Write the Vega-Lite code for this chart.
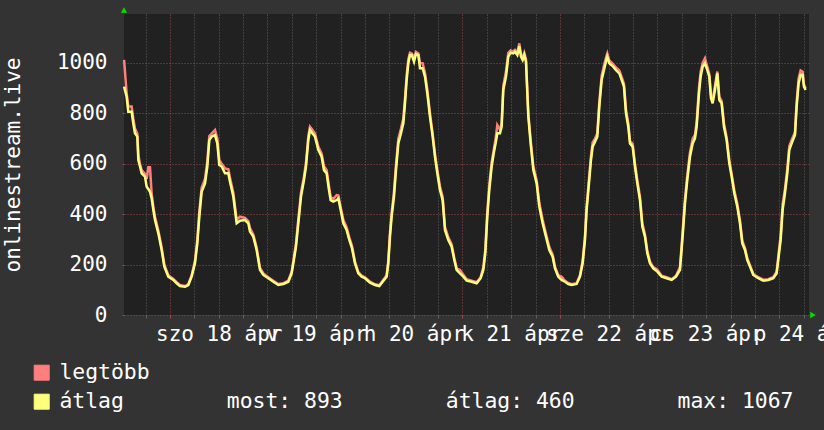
{
  "$schema": "https://vega.github.io/schema/vega-lite/v6.json",
  "autosize": {"type": "none"},
  "padding": {"left": 124, "top": 14, "right": 15, "bottom": 115},
  "width": 685,
  "height": 301,
  "background": "#333333",
  "config": {
    "view": {"fill": "#212121", "stroke": null},
    "font": "DejaVu Sans Mono",
    "axisY": {
      "values": [0, 100, 200, 300, 400, 500, 600, 700, 800, 900, 1000, 1100],
      "grid": true,
      "gridColor": {"condition": {"test": "datum.value % 200 === 0", "value": "#a04848"}, "value": "#606060"},
      "gridDash": [1, 2],
      "domain": false,
      "tickSize": 2,
      "tickColor": {"condition": {"test": "datum.value % 200 === 0", "value": "#a04848"}, "value": "#606060"},
      "labelExpr": "datum.value % 200 === 0 ? format(datum.value, 'd') : ''",
      "labelFont": "DejaVu Sans Mono",
      "labelFontSize": 21,
      "labelColor": "#ffffff",
      "labelPadding": 15,
      "titleFont": "DejaVu Sans Mono",
      "titleFontSize": 21,
      "titleFontWeight": "normal",
      "titleColor": "#ffffff",
      "titlePadding": 33
    }
  },
  "datasets": {
    "serie": [
      {"h": -11.3, "max": 1012, "avg": 906},
      {"h": -10.67, "max": 880, "avg": 866},
      {"h": -10.26, "max": 827, "avg": 807},
      {"h": -9.44, "max": 827, "avg": 807},
      {"h": -9.03, "max": 780, "avg": 760},
      {"h": -8.62, "max": 740, "avg": 721},
      {"h": -8.04, "max": 720, "avg": 708},
      {"h": -7.79, "max": 635, "avg": 615},
      {"h": -7.38, "max": 600, "avg": 589},
      {"h": -6.97, "max": 575, "avg": 562},
      {"h": -6.15, "max": 560, "avg": 549},
      {"h": -5.74, "max": 540, "avg": 509},
      {"h": -5.33, "max": 586, "avg": 500},
      {"h": -4.92, "max": 586, "avg": 489},
      {"h": -4.51, "max": 480, "avg": 463},
      {"h": -4.10, "max": 430, "avg": 417},
      {"h": -3.69, "max": 390, "avg": 377},
      {"h": -2.87, "max": 335, "avg": 324},
      {"h": -2.05, "max": 268, "avg": 258},
      {"h": -1.39, "max": 200, "avg": 192},
      {"h": -0.41, "max": 158, "avg": 152},
      {"h": 0.82, "max": 143, "avg": 139},
      {"h": 1.64, "max": 130, "avg": 126},
      {"h": 2.46, "max": 119, "avg": 115},
      {"h": 3.69, "max": 115, "avg": 112},
      {"h": 4.51, "max": 122, "avg": 119},
      {"h": 5.33, "max": 158, "avg": 152},
      {"h": 6.15, "max": 215, "avg": 205},
      {"h": 6.73, "max": 300, "avg": 284},
      {"h": 7.22, "max": 410, "avg": 390},
      {"h": 7.79, "max": 505, "avg": 489},
      {"h": 8.62, "max": 540, "avg": 522},
      {"h": 9.19, "max": 610, "avg": 589},
      {"h": 9.68, "max": 710, "avg": 694},
      {"h": 10.26, "max": 720, "avg": 708},
      {"h": 11.08, "max": 734, "avg": 714},
      {"h": 11.65, "max": 700, "avg": 681},
      {"h": 12.14, "max": 615, "avg": 595},
      {"h": 12.72, "max": 600, "avg": 589},
      {"h": 13.54, "max": 582, "avg": 562},
      {"h": 14.36, "max": 578, "avg": 562},
      {"h": 14.77, "max": 545, "avg": 529},
      {"h": 15.59, "max": 485, "avg": 470},
      {"h": 16.41, "max": 378, "avg": 364},
      {"h": 17.23, "max": 390, "avg": 374},
      {"h": 18.46, "max": 385, "avg": 377},
      {"h": 19.28, "max": 372, "avg": 364},
      {"h": 19.69, "max": 345, "avg": 331},
      {"h": 20.51, "max": 320, "avg": 311},
      {"h": 21.33, "max": 268, "avg": 258},
      {"h": 22.15, "max": 188, "avg": 179},
      {"h": 22.97, "max": 165, "avg": 159},
      {"h": 24.21, "max": 150, "avg": 146},
      {"h": 25.44, "max": 136, "avg": 132},
      {"h": 26.67, "max": 123, "avg": 119},
      {"h": 27.90, "max": 126, "avg": 123},
      {"h": 29.13, "max": 137, "avg": 132},
      {"h": 29.95, "max": 172, "avg": 165},
      {"h": 30.36, "max": 215, "avg": 205},
      {"h": 31.02, "max": 285, "avg": 271},
      {"h": 31.59, "max": 380, "avg": 364},
      {"h": 32.25, "max": 485, "avg": 470},
      {"h": 32.98, "max": 550, "avg": 536},
      {"h": 33.48, "max": 605, "avg": 589},
      {"h": 34.05, "max": 710, "avg": 694},
      {"h": 34.46, "max": 747, "avg": 734},
      {"h": 35.04, "max": 735, "avg": 721},
      {"h": 35.69, "max": 720, "avg": 708},
      {"h": 36.51, "max": 668, "avg": 655},
      {"h": 37.33, "max": 640, "avg": 628},
      {"h": 37.91, "max": 590, "avg": 575},
      {"h": 38.56, "max": 575, "avg": 562},
      {"h": 39.14, "max": 510, "avg": 496},
      {"h": 39.55, "max": 468, "avg": 456},
      {"h": 40.21, "max": 460, "avg": 450},
      {"h": 41.03, "max": 476, "avg": 456},
      {"h": 41.44, "max": 475, "avg": 463},
      {"h": 42.01, "max": 430, "avg": 417},
      {"h": 42.67, "max": 378, "avg": 364},
      {"h": 43.49, "max": 348, "avg": 337},
      {"h": 44.14, "max": 308, "avg": 298},
      {"h": 44.80, "max": 275, "avg": 265},
      {"h": 45.54, "max": 212, "avg": 205},
      {"h": 46.36, "max": 170, "avg": 165},
      {"h": 47.18, "max": 156, "avg": 152},
      {"h": 48.00, "max": 150, "avg": 146},
      {"h": 49.23, "max": 132, "avg": 128},
      {"h": 50.46, "max": 122, "avg": 119},
      {"h": 51.53, "max": 118, "avg": 115},
      {"h": 52.35, "max": 136, "avg": 132},
      {"h": 53.33, "max": 158, "avg": 152},
      {"h": 53.74, "max": 215, "avg": 205},
      {"h": 54.15, "max": 325, "avg": 311},
      {"h": 54.56, "max": 405, "avg": 390},
      {"h": 55.14, "max": 490, "avg": 470},
      {"h": 55.63, "max": 595, "avg": 575},
      {"h": 56.21, "max": 700, "avg": 681},
      {"h": 56.86, "max": 740, "avg": 721},
      {"h": 57.44, "max": 780, "avg": 761},
      {"h": 57.85, "max": 860, "avg": 840},
      {"h": 58.26, "max": 950, "avg": 933},
      {"h": 58.67, "max": 1015, "avg": 999},
      {"h": 59.08, "max": 1041, "avg": 1032},
      {"h": 59.49, "max": 1038, "avg": 1032},
      {"h": 60.07, "max": 1020, "avg": 1005},
      {"h": 60.55, "max": 1044, "avg": 1036},
      {"h": 61.13, "max": 1038, "avg": 1032},
      {"h": 61.54, "max": 1000, "avg": 979},
      {"h": 62.19, "max": 999, "avg": 979},
      {"h": 62.77, "max": 960, "avg": 946},
      {"h": 63.34, "max": 895, "avg": 880},
      {"h": 64.00, "max": 800, "avg": 787},
      {"h": 64.66, "max": 720, "avg": 708},
      {"h": 65.23, "max": 640, "avg": 628},
      {"h": 65.81, "max": 575, "avg": 562},
      {"h": 66.46, "max": 510, "avg": 496},
      {"h": 67.12, "max": 468, "avg": 456},
      {"h": 67.69, "max": 350, "avg": 337},
      {"h": 68.51, "max": 308, "avg": 298},
      {"h": 69.33, "max": 280, "avg": 271},
      {"h": 69.99, "max": 226, "avg": 218},
      {"h": 70.56, "max": 185, "avg": 179},
      {"h": 71.38, "max": 179, "avg": 165},
      {"h": 72.21, "max": 160, "avg": 152},
      {"h": 73.03, "max": 142, "avg": 136},
      {"h": 74.26, "max": 136, "avg": 132},
      {"h": 75.49, "max": 130, "avg": 126},
      {"h": 76.47, "max": 150, "avg": 146},
      {"h": 77.13, "max": 190, "avg": 179},
      {"h": 77.62, "max": 260, "avg": 245},
      {"h": 78.11, "max": 410, "avg": 390},
      {"h": 78.60, "max": 515, "avg": 496},
      {"h": 79.18, "max": 605, "avg": 589},
      {"h": 79.69, "max": 655, "avg": 642},
      {"h": 80.16, "max": 700, "avg": 681},
      {"h": 80.57, "max": 754, "avg": 721},
      {"h": 81.23, "max": 735, "avg": 721},
      {"h": 81.64, "max": 760, "avg": 747},
      {"h": 82.05, "max": 910, "avg": 893},
      {"h": 82.71, "max": 965, "avg": 946},
      {"h": 83.28, "max": 1040, "avg": 1025},
      {"h": 83.86, "max": 1050, "avg": 1041},
      {"h": 84.51, "max": 1045, "avg": 1038},
      {"h": 84.92, "max": 1052, "avg": 1045},
      {"h": 85.50, "max": 1040, "avg": 1032},
      {"h": 85.99, "max": 1078, "avg": 1067},
      {"h": 86.40, "max": 1035, "avg": 1025},
      {"h": 86.81, "max": 1020, "avg": 1012},
      {"h": 87.22, "max": 1040, "avg": 1032},
      {"h": 87.63, "max": 1015, "avg": 1005},
      {"h": 88.21, "max": 800, "avg": 787},
      {"h": 88.78, "max": 695, "avg": 681},
      {"h": 89.44, "max": 590, "avg": 575},
      {"h": 90.26, "max": 535, "avg": 522},
      {"h": 90.91, "max": 445, "avg": 430},
      {"h": 91.73, "max": 378, "avg": 364},
      {"h": 92.55, "max": 322, "avg": 311},
      {"h": 93.37, "max": 270, "avg": 258},
      {"h": 94.20, "max": 240, "avg": 231},
      {"h": 94.77, "max": 192, "avg": 185},
      {"h": 95.59, "max": 158, "avg": 152},
      {"h": 96.41, "max": 152, "avg": 139},
      {"h": 97.23, "max": 136, "avg": 132},
      {"h": 98.05, "max": 127, "avg": 123},
      {"h": 98.87, "max": 122, "avg": 119},
      {"h": 100.10, "max": 126, "avg": 123},
      {"h": 100.92, "max": 158, "avg": 152},
      {"h": 101.58, "max": 215, "avg": 205},
      {"h": 102.15, "max": 312, "avg": 298},
      {"h": 102.56, "max": 430, "avg": 417},
      {"h": 103.14, "max": 540, "avg": 522},
      {"h": 103.63, "max": 630, "avg": 615},
      {"h": 104.04, "max": 685, "avg": 668},
      {"h": 104.62, "max": 700, "avg": 688},
      {"h": 105.19, "max": 720, "avg": 708},
      {"h": 105.68, "max": 845, "avg": 827},
      {"h": 106.26, "max": 950, "avg": 933},
      {"h": 106.83, "max": 990, "avg": 972},
      {"h": 107.32, "max": 1020, "avg": 1005},
      {"h": 107.65, "max": 1038, "avg": 1025},
      {"h": 108.14, "max": 1010, "avg": 999},
      {"h": 108.96, "max": 998, "avg": 988},
      {"h": 109.79, "max": 982, "avg": 972},
      {"h": 110.61, "max": 970, "avg": 959},
      {"h": 111.18, "max": 945, "avg": 933},
      {"h": 111.75, "max": 918, "avg": 906},
      {"h": 112.25, "max": 815, "avg": 800},
      {"h": 112.82, "max": 760, "avg": 747},
      {"h": 113.23, "max": 690, "avg": 681},
      {"h": 113.89, "max": 680, "avg": 668},
      {"h": 114.46, "max": 600, "avg": 589},
      {"h": 115.04, "max": 535, "avg": 522},
      {"h": 115.69, "max": 470, "avg": 456},
      {"h": 116.27, "max": 365, "avg": 351},
      {"h": 116.92, "max": 320, "avg": 311},
      {"h": 117.50, "max": 255, "avg": 245},
      {"h": 118.15, "max": 212, "avg": 205},
      {"h": 118.97, "max": 190, "avg": 185},
      {"h": 119.96, "max": 180, "avg": 172},
      {"h": 121.03, "max": 156, "avg": 152},
      {"h": 122.26, "max": 150, "avg": 146},
      {"h": 123.49, "max": 142, "avg": 139},
      {"h": 124.56, "max": 156, "avg": 152},
      {"h": 125.54, "max": 190, "avg": 179},
      {"h": 126.19, "max": 330, "avg": 311},
      {"h": 126.77, "max": 460, "avg": 443},
      {"h": 127.34, "max": 555, "avg": 536},
      {"h": 128.00, "max": 645, "avg": 628},
      {"h": 128.66, "max": 700, "avg": 681},
      {"h": 129.23, "max": 715, "avg": 701},
      {"h": 129.64, "max": 765, "avg": 747},
      {"h": 130.22, "max": 900, "avg": 880},
      {"h": 130.63, "max": 965, "avg": 946},
      {"h": 131.12, "max": 1000, "avg": 985},
      {"h": 131.69, "max": 1019, "avg": 999},
      {"h": 132.27, "max": 985, "avg": 972},
      {"h": 132.76, "max": 955, "avg": 946},
      {"h": 133.17, "max": 875, "avg": 860},
      {"h": 133.58, "max": 850, "avg": 840},
      {"h": 134.15, "max": 910, "avg": 893},
      {"h": 134.73, "max": 966, "avg": 959},
      {"h": 135.22, "max": 865, "avg": 853},
      {"h": 135.79, "max": 850, "avg": 840},
      {"h": 136.37, "max": 760, "avg": 747},
      {"h": 137.03, "max": 705, "avg": 694},
      {"h": 137.68, "max": 615, "avg": 602},
      {"h": 138.26, "max": 560, "avg": 549},
      {"h": 138.91, "max": 495, "avg": 483},
      {"h": 139.65, "max": 442, "avg": 430},
      {"h": 140.31, "max": 375, "avg": 364},
      {"h": 140.88, "max": 295, "avg": 284},
      {"h": 141.54, "max": 265, "avg": 258},
      {"h": 142.11, "max": 225, "avg": 218},
      {"h": 142.77, "max": 198, "avg": 192},
      {"h": 143.59, "max": 163, "avg": 159},
      {"h": 144.82, "max": 150, "avg": 146},
      {"h": 146.05, "max": 140, "avg": 136},
      {"h": 147.28, "max": 142, "avg": 139},
      {"h": 148.51, "max": 150, "avg": 146},
      {"h": 149.33, "max": 172, "avg": 165},
      {"h": 149.83, "max": 245, "avg": 231},
      {"h": 150.32, "max": 315, "avg": 298},
      {"h": 150.81, "max": 440, "avg": 417},
      {"h": 151.38, "max": 500, "avg": 483},
      {"h": 151.96, "max": 580, "avg": 562},
      {"h": 152.45, "max": 670, "avg": 655},
      {"h": 153.03, "max": 695, "avg": 681},
      {"h": 153.85, "max": 725, "avg": 714},
      {"h": 154.26, "max": 845, "avg": 827},
      {"h": 154.75, "max": 940, "avg": 920},
      {"h": 155.24, "max": 970, "avg": 953},
      {"h": 155.73, "max": 965, "avg": 953},
      {"h": 156.06, "max": 915, "avg": 906},
      {"h": 156.47, "max": 900, "avg": 893}
    ],
    "nyil_fel": [{"h": -11.32, "v": 1194.4}],
    "nyil_jobb": [{"h": 157.3, "v": 0}]
  },
  "encoding": {
    "x": {
      "field": "h",
      "type": "quantitative",
      "scale": {"domain": [-11.32, 157.3], "nice": false, "zero": false},
      "axis": {
        "title": null,
        "values": [-6, 0, 6, 12, 18, 24, 30, 36, 42, 48, 54, 60, 66, 72, 78, 84, 90, 96, 102, 108, 114, 120, 126, 132, 138, 144, 150, 156],
        "grid": true,
        "gridColor": {"condition": {"test": "datum.value % 24 === 0", "value": "#a04848"}, "value": "#606060"},
        "gridDash": [1, 2],
        "gridWidth": 1,
        "domain": false,
        "ticks": true,
        "tickSize": 3,
        "tickColor": {"condition": {"test": "datum.value % 24 === 0", "value": "#a04848"}, "value": "#606060"},
        "labelExpr": "datum.value % 24 === 12 ? ['szo','v','h','k','sze','cs','p'][floor(datum.value/24)] + ' ' + (18 + floor(datum.value/24)) + ' ápr' : ''",
        "labelOverlap": false,
        "labelBound": false,
        "labelFlush": false,
        "labelFont": "DejaVu Sans Mono",
        "labelFontSize": 21,
        "labelColor": "#ffffff",
        "labelPadding": 5
      }
    },
    "y": {
      "field": "v",
      "type": "quantitative",
      "scale": {"domain": [0, 1194.4], "nice": false},
      "title": "onlinestream.live"
    }
  },
  "layer": [
    {
      "data": {"name": "serie"},
      "mark": {"type": "line", "strokeWidth": 2.5, "interpolate": "linear"},
      "encoding": {
        "y": {
          "field": "max",
          "type": "quantitative",
          "scale": {"domain": [0, 1194.4], "nice": false},
          "title": "onlinestream.live"
        },
        "color": {
          "datum": "legtöbb",
          "type": "nominal",
          "scale": {"domain": ["legtöbb", "átlag"], "range": ["#ff7f7f", "#ffff7f"]},
          "legend": {
            "orient": "none",
            "legendX": -93,
            "legendY": 348,
            "title": null,
            "direction": "vertical",
            "labelFont": "DejaVu Sans Mono",
            "labelFontSize": 21.4,
            "labelColor": "#ffffff",
            "labelLimit": 1000,
            "labelOffset": 7,
            "rowPadding": 6,
            "symbolType": "square",
            "symbolSize": 225,
            "labelExpr": "datum.label === 'átlag' ? 'átlag\u00a0\u00a0\u00a0\u00a0\u00a0\u00a0\u00a0\u00a0most:\u00a0893\u00a0\u00a0\u00a0\u00a0\u00a0\u00a0\u00a0\u00a0átlag:\u00a0460\u00a0\u00a0\u00a0\u00a0\u00a0\u00a0\u00a0\u00a0max:\u00a01067' : datum.label",
            "encode": {
              "symbols": {
                "update": {
                  "fill": {"scale": "color", "field": "value"},
                  "stroke": {"value": "#000000"},
                  "strokeWidth": {"value": 1},
                  "opacity": {"value": 1}
                }
              }
            }
          }
        }
      }
    },
    {
      "data": {"name": "serie"},
      "mark": {"type": "line", "strokeWidth": 2.5, "interpolate": "linear"},
      "encoding": {
        "y": {
          "field": "avg",
          "type": "quantitative",
          "scale": {"domain": [0, 1194.4], "nice": false},
          "title": "onlinestream.live"
        },
        "color": {"datum": "átlag", "type": "nominal"}
      }
    },
    {
      "data": {"name": "nyil_fel"},
      "mark": {"type": "point", "shape": "triangle-up", "filled": true, "size": 40, "color": "#00e000", "opacity": 1, "yOffset": -4}
    },
    {
      "data": {"name": "nyil_jobb"},
      "mark": {"type": "point", "shape": "triangle-right", "filled": true, "size": 40, "color": "#00e000", "opacity": 1, "xOffset": 4}
    }
  ]
}
